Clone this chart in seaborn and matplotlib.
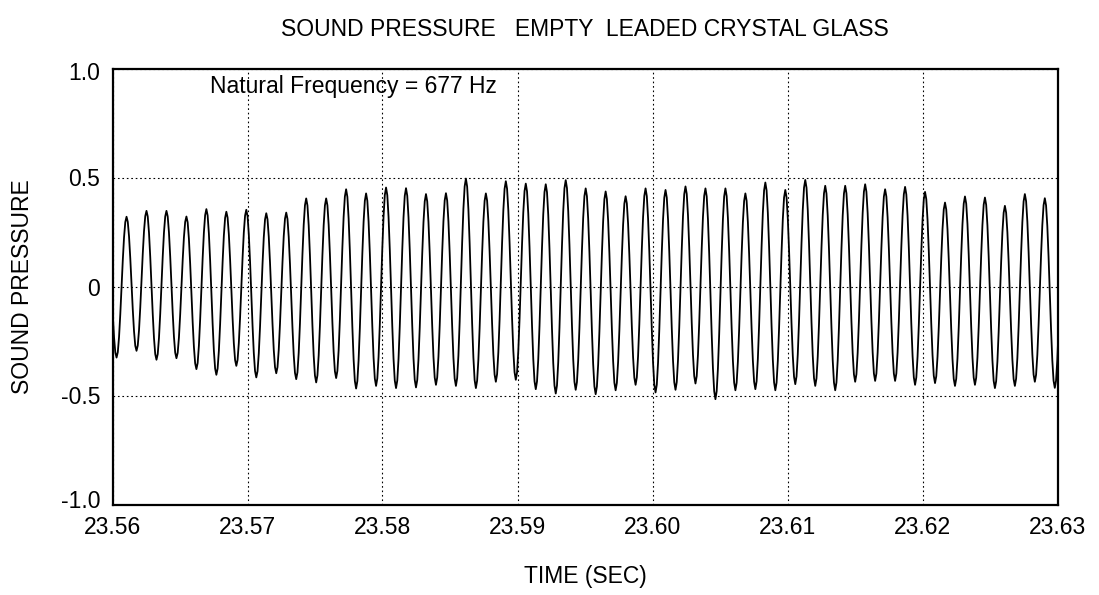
import numpy as np
import pandas as pd
import matplotlib
matplotlib.use("Agg")
import matplotlib.pyplot as plt
import matplotlib.transforms as mtransforms
import seaborn as sns

# Extremes of the recorded trace, read left to right off the chart
trough_vals = [-0.326, -0.295, -0.336, -0.329, -0.379, -0.405, -0.364, -0.417, -0.398, -0.425,
               -0.440, -0.420, -0.468, -0.456, -0.466, -0.463, -0.451, -0.456, -0.466,
               -0.437, -0.428, -0.471, -0.491, -0.474, -0.494, -0.476, -0.451, -0.486, -0.474,
               -0.445, -0.517, -0.476, -0.471, -0.476, -0.448, -0.456, -0.476, -0.437,
               -0.433, -0.433, -0.451, -0.443, -0.456, -0.451, -0.466, -0.456, -0.437, -0.465]
peak_vals = [0.320, 0.347, 0.347, 0.321, 0.355, 0.343, 0.352, 0.336, 0.339,
             0.404, 0.404, 0.446, 0.427, 0.454, 0.451, 0.424, 0.428, 0.495, 0.427,
             0.483, 0.472, 0.469, 0.488, 0.450, 0.436, 0.414, 0.450, 0.443,
             0.459, 0.450, 0.450, 0.427, 0.477, 0.443, 0.489, 0.462, 0.462, 0.469,
             0.446, 0.457, 0.434, 0.385, 0.413, 0.408, 0.370, 0.424, 0.405]
lead_peak = 0.30     # peak just before the window
trail_peak = 0.40    # peak just after the window
first_trough_t = 23.5603
last_trough_t = 23.6298

x_ticks = [23.56, 23.57, 23.58, 23.59, 23.60, 23.61, 23.62, 23.63]
y_ticks = [-1.0, -0.5, 0.0, 0.5, 1.0]
y_tick_labels = ["-1.0", "-0.5", "0", "0.5", "1.0"]
title = "SOUND PRESSURE   EMPTY  LEADED CRYSTAL GLASS"
note = "Natural Frequency = 677 Hz"

# trough, peak, trough, ... plus one extra peak at each end
ext_vals = [lead_peak]
for i, tv in enumerate(trough_vals):
    ext_vals.append(tv)
    if i < len(peak_vals):
        ext_vals.append(peak_vals[i])
ext_vals.append(trail_peak)
n_ext = len(trough_vals) + len(peak_vals)
half = (last_trough_t - first_trough_t) / (n_ext - 1)
ext_t = np.linspace(first_trough_t - half, last_trough_t + half, n_ext + 2)

# smooth half-cycle between successive extremes
tt, vv = [], []
s = np.linspace(0, 1, 9)[:-1]
for i in range(len(ext_vals) - 1):
    a, b = ext_vals[i], ext_vals[i + 1]
    tt.extend(ext_t[i] + s * (ext_t[i + 1] - ext_t[i]))
    vv.extend(a + (b - a) * (1 - np.cos(np.pi * s)) / 2)
tt.append(ext_t[-1])
vv.append(ext_vals[-1])
df = pd.DataFrame({"time": tt, "pressure": vv})

sns.set_theme(style="white")
plt.rcParams["font.family"] = ["Liberation Sans", "DejaVu Sans"]
fs = 16.5

fig = plt.figure(figsize=(10.99, 5.95), dpi=100)
ax = fig.add_axes([112.5 / 1099, 1 - 504.5 / 595, 945 / 1099, 436 / 595])

sns.lineplot(data=df, x="time", y="pressure", color="black", linewidth=1.3,
             estimator=None, sort=False, ax=ax)

ax.set_xlim(23.56, 23.63)
ax.set_ylim(-1.0, 1.0)
ax.set_xticks(x_ticks)
ax.set_xticklabels([f"{v:.2f}" for v in x_ticks])
ax.set_yticks(y_ticks)
ax.set_yticklabels(y_tick_labels)
ax.tick_params(axis="x", length=0, pad=8, labelsize=fs, colors="black")
ax.tick_params(axis="y", length=0, pad=9, labelsize=fs, colors="black")
ax.grid(True, color="black", linestyle=(0, (1.5, 2.5)), linewidth=0.8)

# end labels sit a little inside the frame, as in the original plot
ylabels = ax.get_yticklabels()
ylabels[0].set_transform(ylabels[0].get_transform() +
                         mtransforms.ScaledTranslation(0, 5 / 100, fig.dpi_scale_trans))
ylabels[-1].set_transform(ylabels[-1].get_transform() +
                          mtransforms.ScaledTranslation(0, -3 / 100, fig.dpi_scale_trans))

for sp in ax.spines.values():
    sp.set_visible(True)
    sp.set_color("black")
    sp.set_linewidth(1.6)

ax.set_xlabel("TIME (SEC)", fontsize=fs, color="black", va="center")
ax.xaxis.set_label_coords(0.5, (504.5 - 576) / 436)
ax.set_ylabel("SOUND PRESSURE", fontsize=fs, color="black", va="center")
ax.yaxis.set_label_coords((22.5 - 112.5) / 945, 0.5)
ax.set_title(title, fontsize=fs, color="black", y=1 + (68.5 - 30) / 436, pad=0, va="center")

ax.text(23.5672, 0.917, note, fontsize=fs, color="black", ha="left", va="center")

fig.savefig("out.png", dpi=100)
